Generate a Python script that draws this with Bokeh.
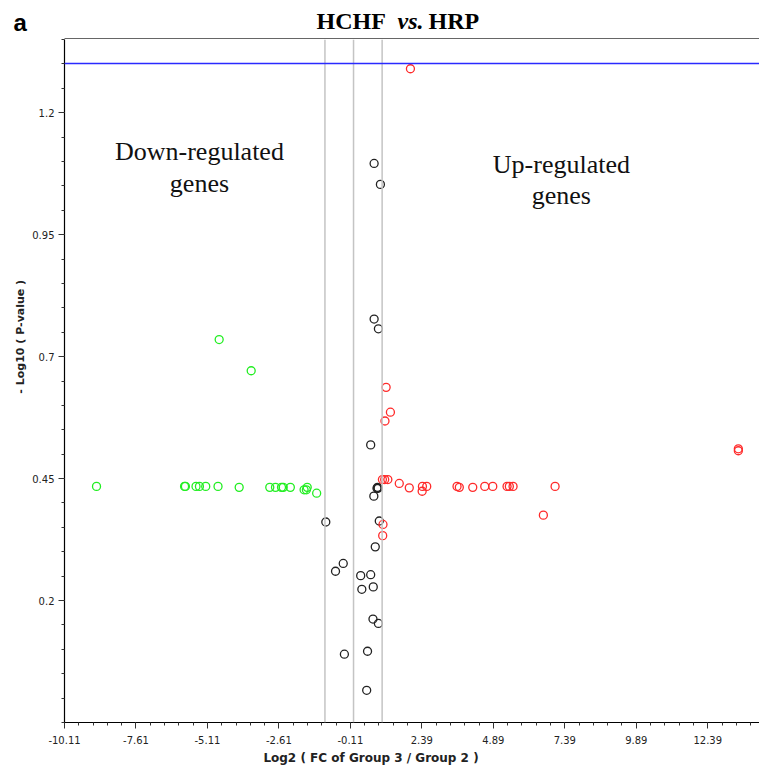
import numpy as np
from bokeh.plotting import figure
from bokeh.layouts import column, row
from bokeh.models import Span, Label, FixedTicker, Range1d
from bokeh.embed import file_html
from bokeh.resources import INLINE

# ---- data ----
red_x = [1.99, 1.14, 1.29, 1.10, 1.01, 1.09, 1.20, 1.60, 1.95, 2.41, 2.40, 2.56,
         3.62, 3.70, 4.17, 4.59, 4.87, 5.37, 5.45, 5.58, 7.05, 6.64, 13.46, 13.46,
         1.03, 1.02]
red_y = [1.290, 0.637, 0.586, 0.568, 0.448, 0.448, 0.448, 0.440, 0.431, 0.434, 0.424, 0.434,
         0.434, 0.432, 0.432, 0.434, 0.434, 0.434, 0.434, 0.434, 0.434, 0.375, 0.511, 0.507,
         0.356, 0.333]

green_x = [-8.99, -4.70, -3.58, -5.91, -5.88, -5.51, -5.39, -5.17, -4.74, -4.00,
           -2.93, -2.73, -2.52, -2.46, -2.21, -1.73, -1.65, -1.62, -1.29]
green_y = [0.434, 0.735, 0.671, 0.434, 0.434, 0.434, 0.434, 0.434, 0.434, 0.432,
           0.432, 0.432, 0.432, 0.432, 0.432, 0.427, 0.427, 0.432, 0.420]

black_x = [0.72, 0.94, 0.72, 0.87, 0.60, 0.86, 0.82, 0.84, 0.71, -0.97, 0.90, 0.76,
           -0.36, -0.63, 0.25, 0.60, 0.29, 0.69, 0.68, 0.87, -0.32, 0.49, 0.46]
black_y = [1.096, 1.053, 0.777, 0.757, 0.519, 0.430, 0.430, 0.432, 0.414, 0.361, 0.363, 0.310,
           0.276, 0.260, 0.251, 0.253, 0.223, 0.228, 0.162, 0.153, 0.090, 0.096, 0.016]

p_threshold = 1.301          # -log10(0.05)
fc_lines = [-1.0, 0.0, 1.0]

x_ticks = [-10.11, -7.61, -5.11, -2.61, -0.11, 2.39, 4.89, 7.39, 9.89, 12.39]
x_tick_labels = ["-10.11", "-7.61", "-5.11", "-2.61", "-0.11", "2.39", "4.89", "7.39", "9.89", "12.39"]
y_ticks = [0.2, 0.45, 0.7, 0.95, 1.2]
y_tick_labels = ["0.2", "0.45", "0.7", "0.95", "1.2"]

title_parts = ["HCHF", "vs.", "HRP"]
panel_letter = "a"
x_label = "Log2 ( FC of Group 3 / Group 2 )"
y_label = "- Log10 ( P-value )"


def blank(w, h):
    f = figure(width=w, height=h, output_backend="svg", toolbar_location=None, title=None,
               x_axis_type=None, y_axis_type=None, x_range=Range1d(0, w), y_range=Range1d(0, h),
               min_border=0, min_border_left=0, min_border_right=0,
               min_border_top=0, min_border_bottom=0)
    f.outline_line_color = None
    f.background_fill_color = "white"
    f.border_fill_color = "white"
    return f


# ---- main plot ----
x0, x1 = -10.11, 14.2
y0, y1 = -0.05, 1.35

p = figure(width=731, height=710, output_backend="svg", toolbar_location=None,
           title=None, x_range=Range1d(x0, x1), y_range=Range1d(y0, y1),
           min_border_left=36, min_border_right=0, min_border_top=0, min_border_bottom=27)
p.background_fill_color = "white"
p.border_fill_color = "white"
p.outline_line_color = None
p.xgrid.visible = False
p.ygrid.visible = False

xt = FixedTicker(ticks=x_ticks, minor_ticks=list(np.round(np.arange(x0, x1, 0.5), 2)))
yt = FixedTicker(ticks=y_ticks, minor_ticks=list(np.round(np.arange(y0, y1 + 0.001, 0.05), 2)))
p.xaxis.ticker = xt
p.yaxis.ticker = yt
p.xaxis.major_label_overrides = {v: s for v, s in zip(x_ticks, x_tick_labels)}
p.yaxis.major_label_overrides = {v: s for v, s in zip(y_ticks, y_tick_labels)}

for ax in (p.xaxis[0], p.yaxis[0]):
    ax.axis_line_color = "black"
    ax.axis_line_width = 1.2
    ax.major_tick_line_color = "#333333"
    ax.minor_tick_line_color = "#333333"
    ax.major_tick_out = 6
    ax.major_tick_in = 0
    ax.minor_tick_out = 3
    ax.minor_tick_in = 0
    ax.major_label_text_font = "DejaVu Sans"
    ax.major_label_text_font_size = "10px"
    ax.major_label_text_color = "#222222"
p.xaxis.major_label_standoff = 7
p.yaxis.major_label_standoff = 4

for v in fc_lines:
    p.add_layout(Span(location=v, dimension="height", line_color="#c4c4c4", line_width=1.5))
p.add_layout(Span(location=p_threshold, dimension="width", line_color="#2a2aff", line_width=1.5))

p.scatter(black_x, black_y, size=8, marker="circle", fill_color=None,
          line_color="#222222", line_width=1.3)
p.scatter(green_x, green_y, size=8, marker="circle", fill_color=None,
          line_color="#22ee22", line_width=1.3)
p.scatter(red_x, red_y, size=8, marker="circle", fill_color=None,
          line_color="#ff2a2a", line_width=1.3)

for txt, x, y in [("Down-regulated", -5.39, 1.120), ("genes", -5.39, 1.055),
                  ("Up-regulated", 7.27, 1.094), ("genes", 7.27, 1.031)]:
    p.add_layout(Label(x=x, y=y, text=txt, text_font="Liberation Serif",
                       text_font_size="26px", text_color="#111111",
                       text_baseline="alphabetic", text_align="center"))

# ---- title strip (pixel coordinates, y up) ----
top = blank(759, 39)
top.line([64, 759], [0.75, 0.75], line_color="#666666", line_width=1.5)   # frame top border
for txt, x, style in [(title_parts[0], 316, "bold"), (title_parts[1], 397, "bold italic"),
                      (title_parts[2], 428, "bold")]:
    top.add_layout(Label(x=x, y=18.5, text=txt, text_font="Liberation Serif",
                         text_font_style=style, text_font_size="24px", text_color="black",
                         text_baseline="alphabetic", text_align="left"))
top.add_layout(Label(x=13, y=17, text=panel_letter, text_font="Liberation Sans",
                     text_font_style="bold", text_font_size="24px", text_color="black",
                     text_baseline="alphabetic", text_align="left"))

# ---- y-axis title strip ----
left = blank(28, 710)
left.add_layout(Label(x=20, y=401, text=y_label, text_font="DejaVu Sans",
                      text_font_style="bold", text_font_size="11px", text_color="#222222",
                      text_baseline="middle", text_align="center", angle=np.pi / 2))

# ---- x-axis title strip ----
bottom = blank(759, 18)
bottom.add_layout(Label(x=370.5, y=10, text=x_label, text_font="DejaVu Sans",
                        text_font_style="bold", text_font_size="12px", text_color="#222222",
                        text_baseline="middle", text_align="center"))

layout = column(top, row(left, p, spacing=0), bottom, spacing=0)
open("out.html", "w").write(file_html(layout, INLINE))
